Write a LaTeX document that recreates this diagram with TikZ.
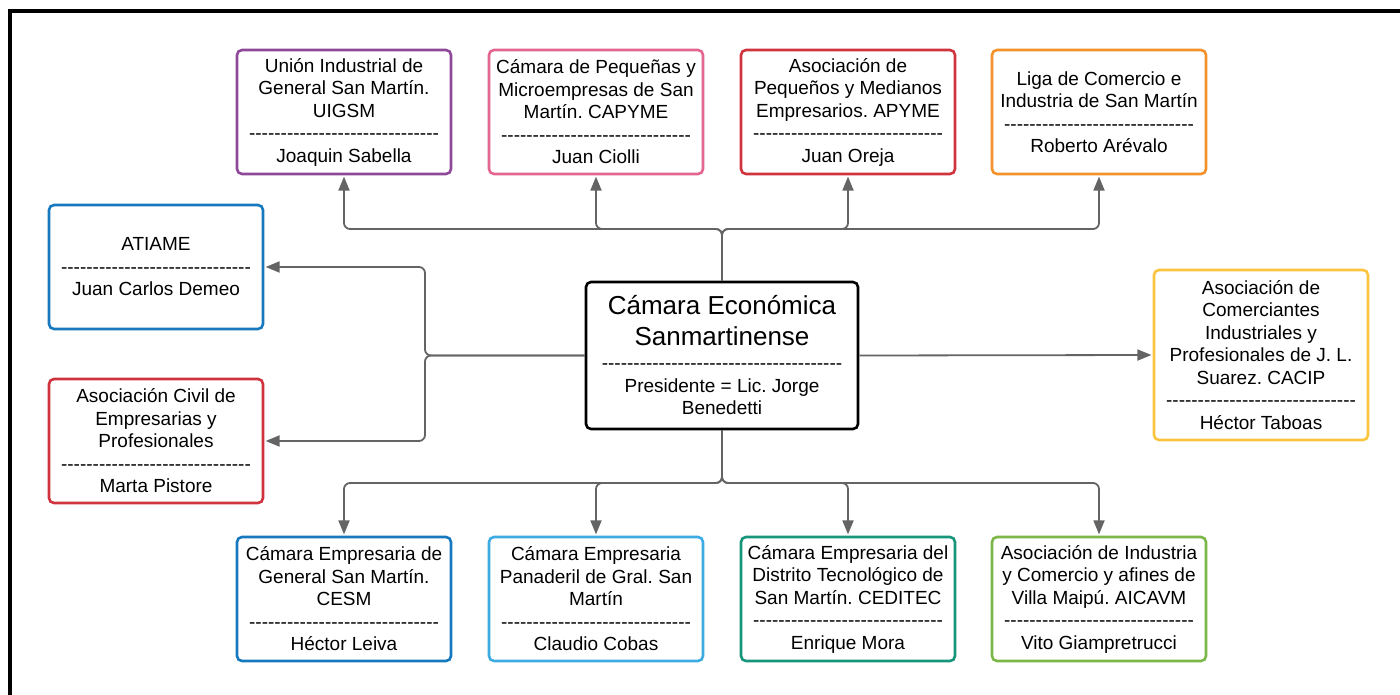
\documentclass[tikz,border=0pt]{standalone}
\usepackage{fontspec}
\setmainfont{Liberation Sans}
\usetikzlibrary{arrows.meta}
\definecolor{purplec}{RGB}{142,73,153}
\definecolor{pinkc}{RGB}{226,102,142}
\definecolor{redc}{RGB}{206,51,62}
\definecolor{orangec}{RGB}{243,146,42}
\definecolor{bluec}{RGB}{22,121,189}
\definecolor{skyc}{RGB}{62,171,226}
\definecolor{tealc}{RGB}{22,149,120}
\definecolor{greenc}{RGB}{124,184,72}
\definecolor{yellowc}{RGB}{250,196,62}
\definecolor{linkgray}{RGB}{100,100,100}
\newcommand{\sepline}[1]{\foreach \k in {1,...,#1}{-\kern0pt}}
\frenchspacing
\begin{document}
\begin{tikzpicture}[x=1pt,y=-1pt,
  org/.style={draw=#1, line width=2.6pt, rounded corners=5pt, fill=white, align=center,
    minimum width=214pt, minimum height=124pt, inner sep=2pt, font=\fontsize{19}{22.5}\selectfont},
  hub/.style={org=black, minimum width=272pt, minimum height=147pt},
  link/.style={draw=linkgray, line width=1.8pt, rounded corners=6pt,
    -{Triangle[length=14pt,width=11pt]}, shorten >=1.3pt}]
\useasboundingbox (0,0) rectangle (1400,695);
\clip (0,0) rectangle (1400,695);
\fill[white] (0,0) rectangle (1400,695);
\draw[line width=4pt] (10,11) rectangle (1430,730);

% centre
\node[hub] (cen) at (722,355.5) {{\fontsize{26}{31}\selectfont Cámara Económica}\\[8pt]{\fontsize{26}{31}\selectfont Sanmartinense}\\[2pt]\sepline{38}\\Presidente = Lic. Jorge\\Benedetti};

% top row
\node[org=purplec] (uigsm) at (344,112) {Unión Industrial de\\General San Martín.\\UIGSM\\\sepline{30}\\Joaquin Sabella};
\node[org=pinkc] (capyme) at (596,112) {Cámara de Pequeñas y\\Microempresas de San\\Martín. CAPYME\\\sepline{30}\\Juan Ciolli};
\node[org=redc] (apyme) at (848,112) {Asociación de\\Pequeños y Medianos\\Empresarios. APYME\\\sepline{30}\\Juan Oreja};
\node[org=orangec] (liga) at (1099,112) {Liga de Comercio e\\Industria de San Martín\\\sepline{30}\\Roberto Arévalo};

% left and right
\node[org=bluec] (atiame) at (156,267) {ATIAME\\\sepline{30}\\Juan Carlos Demeo};
\node[org=redc] (civil) at (156,441) {Asociación Civil de\\Empresarias y\\Profesionales\\\sepline{30}\\Marta Pistore};
\node[org=yellowc, minimum height=170pt] (cacip) at (1261,355) {Asociación de\\Comerciantes\\Industriales y\\Profesionales de J. L.\\Suarez. CACIP\\\sepline{30}\\Héctor Taboas};

% bottom row
\node[org=bluec] (cesm) at (344,599) {Cámara Empresaria de\\General San Martín.\\CESM\\\sepline{30}\\Héctor Leiva};
\node[org=skyc] (panad) at (596,599) {Cámara Empresaria\\Panaderil de Gral. San\\Martín\\\sepline{30}\\Claudio Cobas};
\node[org=tealc] (ceditec) at (848,599) {Cámara Empresaria del\\Distrito Tecnológico de\\San Martín. CEDITEC\\\sepline{30}\\Enrique Mora};
\node[org=greenc] (aicavm) at (1099,599) {Asociación de Industria\\y Comercio y afines de\\Villa Maipú. AICAVM\\\sepline{30}\\Vito Giampretrucci};

\coordinate (topbus) at (722,229);
\coordinate (botbus) at (722,483);
\coordinate (leftbus) at (425,355.5);

\foreach \n in {uigsm,capyme,apyme,liga}
  \draw[link] (cen.north) -- (topbus) -| (\n.south);
\foreach \n in {cesm,panad,ceditec,aicavm}
  \draw[link] (cen.south) -- (botbus) -| (\n.north);
\foreach \n in {atiame,civil}
  \draw[link] (cen.west) -- (leftbus) |- (\n.east);
\draw[link] (cen.east) -- (cacip.west);
\end{tikzpicture}
\end{document}
